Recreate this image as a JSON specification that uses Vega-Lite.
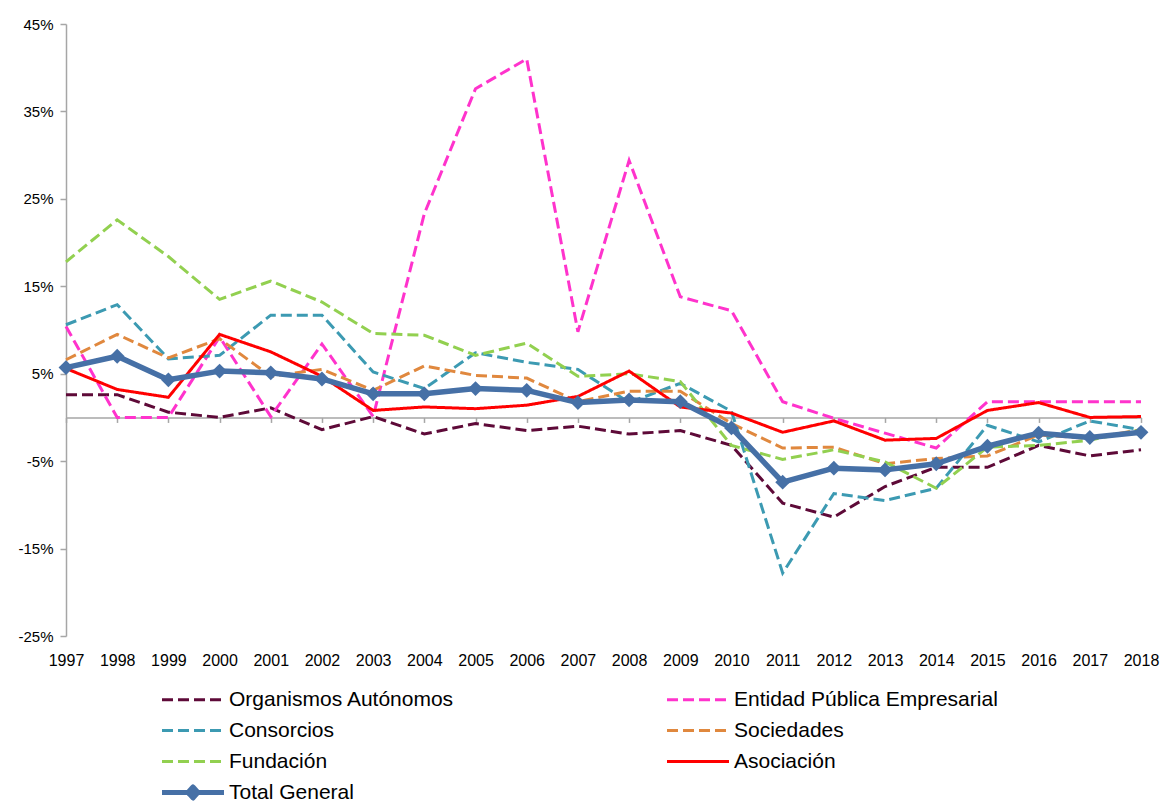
{
  "$schema": "https://vega.github.io/schema/vega-lite/v6.json",
  "width": 1075,
  "height": 612,
  "autosize": {"type": "none"},
  "padding": {"left": 66, "top": 24, "right": 22, "bottom": 167},
  "background": "white",
  "config": {
    "view": {"stroke": null},
    "font": "Liberation Sans",
    "axis": {"labelColor": "black", "labelFont": "Liberation Sans", "grid": false, "title": null}
  },
  "data": {
    "values": [
      {"year": "1997", "s": "Organismos Autónomos", "v": 2.6},
      {"year": "1998", "s": "Organismos Autónomos", "v": 2.6},
      {"year": "1999", "s": "Organismos Autónomos", "v": 0.6},
      {"year": "2000", "s": "Organismos Autónomos", "v": 0.0},
      {"year": "2001", "s": "Organismos Autónomos", "v": 1.1},
      {"year": "2002", "s": "Organismos Autónomos", "v": -1.4},
      {"year": "2003", "s": "Organismos Autónomos", "v": 0.1},
      {"year": "2004", "s": "Organismos Autónomos", "v": -1.9},
      {"year": "2005", "s": "Organismos Autónomos", "v": -0.7},
      {"year": "2006", "s": "Organismos Autónomos", "v": -1.5},
      {"year": "2007", "s": "Organismos Autónomos", "v": -1.0},
      {"year": "2008", "s": "Organismos Autónomos", "v": -1.9},
      {"year": "2009", "s": "Organismos Autónomos", "v": -1.5},
      {"year": "2010", "s": "Organismos Autónomos", "v": -3.2},
      {"year": "2011", "s": "Organismos Autónomos", "v": -9.8},
      {"year": "2012", "s": "Organismos Autónomos", "v": -11.4},
      {"year": "2013", "s": "Organismos Autónomos", "v": -7.9},
      {"year": "2014", "s": "Organismos Autónomos", "v": -5.7},
      {"year": "2015", "s": "Organismos Autónomos", "v": -5.7},
      {"year": "2016", "s": "Organismos Autónomos", "v": -3.2},
      {"year": "2017", "s": "Organismos Autónomos", "v": -4.4},
      {"year": "2018", "s": "Organismos Autónomos", "v": -3.7},
      {"year": "1997", "s": "Entidad Pública Empresarial", "v": 10.4},
      {"year": "1998", "s": "Entidad Pública Empresarial", "v": 0.0},
      {"year": "1999", "s": "Entidad Pública Empresarial", "v": 0.0},
      {"year": "2000", "s": "Entidad Pública Empresarial", "v": 9.2},
      {"year": "2001", "s": "Entidad Pública Empresarial", "v": 0.1},
      {"year": "2002", "s": "Entidad Pública Empresarial", "v": 8.4},
      {"year": "2003", "s": "Entidad Pública Empresarial", "v": 0.1},
      {"year": "2004", "s": "Entidad Pública Empresarial", "v": 23.3},
      {"year": "2005", "s": "Entidad Pública Empresarial", "v": 37.6},
      {"year": "2006", "s": "Entidad Pública Empresarial", "v": 41.0},
      {"year": "2007", "s": "Entidad Pública Empresarial", "v": 9.8},
      {"year": "2008", "s": "Entidad Pública Empresarial", "v": 29.4},
      {"year": "2009", "s": "Entidad Pública Empresarial", "v": 13.8},
      {"year": "2010", "s": "Entidad Pública Empresarial", "v": 12.2},
      {"year": "2011", "s": "Entidad Pública Empresarial", "v": 1.8},
      {"year": "2012", "s": "Entidad Pública Empresarial", "v": -0.1},
      {"year": "2013", "s": "Entidad Pública Empresarial", "v": -1.8},
      {"year": "2014", "s": "Entidad Pública Empresarial", "v": -3.5},
      {"year": "2015", "s": "Entidad Pública Empresarial", "v": 1.8},
      {"year": "2016", "s": "Entidad Pública Empresarial", "v": 1.8},
      {"year": "2017", "s": "Entidad Pública Empresarial", "v": 1.8},
      {"year": "2018", "s": "Entidad Pública Empresarial", "v": 1.8},
      {"year": "1997", "s": "Consorcios", "v": 10.6},
      {"year": "1998", "s": "Consorcios", "v": 12.9},
      {"year": "1999", "s": "Consorcios", "v": 6.7},
      {"year": "2000", "s": "Consorcios", "v": 7.1},
      {"year": "2001", "s": "Consorcios", "v": 11.7},
      {"year": "2002", "s": "Consorcios", "v": 11.7},
      {"year": "2003", "s": "Consorcios", "v": 5.2},
      {"year": "2004", "s": "Consorcios", "v": 3.3},
      {"year": "2005", "s": "Consorcios", "v": 7.4},
      {"year": "2006", "s": "Consorcios", "v": 6.3},
      {"year": "2007", "s": "Consorcios", "v": 5.5},
      {"year": "2008", "s": "Consorcios", "v": 1.7},
      {"year": "2009", "s": "Consorcios", "v": 3.9},
      {"year": "2010", "s": "Consorcios", "v": 0.7},
      {"year": "2011", "s": "Consorcios", "v": -17.8},
      {"year": "2012", "s": "Consorcios", "v": -8.7},
      {"year": "2013", "s": "Consorcios", "v": -9.5},
      {"year": "2014", "s": "Consorcios", "v": -8.1},
      {"year": "2015", "s": "Consorcios", "v": -0.9},
      {"year": "2016", "s": "Consorcios", "v": -2.8},
      {"year": "2017", "s": "Consorcios", "v": -0.4},
      {"year": "2018", "s": "Consorcios", "v": -1.4},
      {"year": "1997", "s": "Sociedades", "v": 6.6},
      {"year": "1998", "s": "Sociedades", "v": 9.5},
      {"year": "1999", "s": "Sociedades", "v": 6.8},
      {"year": "2000", "s": "Sociedades", "v": 9.0},
      {"year": "2001", "s": "Sociedades", "v": 4.7},
      {"year": "2002", "s": "Sociedades", "v": 5.5},
      {"year": "2003", "s": "Sociedades", "v": 3.1},
      {"year": "2004", "s": "Sociedades", "v": 5.9},
      {"year": "2005", "s": "Sociedades", "v": 4.8},
      {"year": "2006", "s": "Sociedades", "v": 4.5},
      {"year": "2007", "s": "Sociedades", "v": 1.8},
      {"year": "2008", "s": "Sociedades", "v": 3.0},
      {"year": "2009", "s": "Sociedades", "v": 3.0},
      {"year": "2010", "s": "Sociedades", "v": -0.7},
      {"year": "2011", "s": "Sociedades", "v": -3.5},
      {"year": "2012", "s": "Sociedades", "v": -3.4},
      {"year": "2013", "s": "Sociedades", "v": -5.3},
      {"year": "2014", "s": "Sociedades", "v": -4.7},
      {"year": "2015", "s": "Sociedades", "v": -4.4},
      {"year": "2016", "s": "Sociedades", "v": -2.0},
      {"year": "2017", "s": "Sociedades", "v": -2.4},
      {"year": "2018", "s": "Sociedades", "v": -1.4},
      {"year": "1997", "s": "Fundación", "v": 17.8},
      {"year": "1998", "s": "Fundación", "v": 22.6},
      {"year": "1999", "s": "Fundación", "v": 18.4},
      {"year": "2000", "s": "Fundación", "v": 13.5},
      {"year": "2001", "s": "Fundación", "v": 15.6},
      {"year": "2002", "s": "Fundación", "v": 13.2},
      {"year": "2003", "s": "Fundación", "v": 9.6},
      {"year": "2004", "s": "Fundación", "v": 9.4},
      {"year": "2005", "s": "Fundación", "v": 7.1},
      {"year": "2006", "s": "Fundación", "v": 8.5},
      {"year": "2007", "s": "Fundación", "v": 4.7},
      {"year": "2008", "s": "Fundación", "v": 5.0},
      {"year": "2009", "s": "Fundación", "v": 4.1},
      {"year": "2010", "s": "Fundación", "v": -3.2},
      {"year": "2011", "s": "Fundación", "v": -4.8},
      {"year": "2012", "s": "Fundación", "v": -3.7},
      {"year": "2013", "s": "Fundación", "v": -5.1},
      {"year": "2014", "s": "Fundación", "v": -8.1},
      {"year": "2015", "s": "Fundación", "v": -3.4},
      {"year": "2016", "s": "Fundación", "v": -3.2},
      {"year": "2017", "s": "Fundación", "v": -2.6},
      {"year": "2018", "s": "Fundación", "v": -1.4},
      {"year": "1997", "s": "Asociación", "v": 5.6},
      {"year": "1998", "s": "Asociación", "v": 3.2},
      {"year": "1999", "s": "Asociación", "v": 2.3},
      {"year": "2000", "s": "Asociación", "v": 9.5},
      {"year": "2001", "s": "Asociación", "v": 7.5},
      {"year": "2002", "s": "Asociación", "v": 4.7},
      {"year": "2003", "s": "Asociación", "v": 0.8},
      {"year": "2004", "s": "Asociación", "v": 1.2},
      {"year": "2005", "s": "Asociación", "v": 1.0},
      {"year": "2006", "s": "Asociación", "v": 1.4},
      {"year": "2007", "s": "Asociación", "v": 2.4},
      {"year": "2008", "s": "Asociación", "v": 5.3},
      {"year": "2009", "s": "Asociación", "v": 1.2},
      {"year": "2010", "s": "Asociación", "v": 0.5},
      {"year": "2011", "s": "Asociación", "v": -1.7},
      {"year": "2012", "s": "Asociación", "v": -0.4},
      {"year": "2013", "s": "Asociación", "v": -2.6},
      {"year": "2014", "s": "Asociación", "v": -2.4},
      {"year": "2015", "s": "Asociación", "v": 0.8},
      {"year": "2016", "s": "Asociación", "v": 1.7},
      {"year": "2017", "s": "Asociación", "v": 0.0},
      {"year": "2018", "s": "Asociación", "v": 0.1},
      {"year": "1997", "s": "Total General", "v": 5.7},
      {"year": "1998", "s": "Total General", "v": 7.0},
      {"year": "1999", "s": "Total General", "v": 4.3},
      {"year": "2000", "s": "Total General", "v": 5.3},
      {"year": "2001", "s": "Total General", "v": 5.1},
      {"year": "2002", "s": "Total General", "v": 4.4},
      {"year": "2003", "s": "Total General", "v": 2.7},
      {"year": "2004", "s": "Total General", "v": 2.7},
      {"year": "2005", "s": "Total General", "v": 3.3},
      {"year": "2006", "s": "Total General", "v": 3.1},
      {"year": "2007", "s": "Total General", "v": 1.7},
      {"year": "2008", "s": "Total General", "v": 2.0},
      {"year": "2009", "s": "Total General", "v": 1.8},
      {"year": "2010", "s": "Total General", "v": -1.2},
      {"year": "2011", "s": "Total General", "v": -7.4},
      {"year": "2012", "s": "Total General", "v": -5.8},
      {"year": "2013", "s": "Total General", "v": -6.0},
      {"year": "2014", "s": "Total General", "v": -5.3},
      {"year": "2015", "s": "Total General", "v": -3.3},
      {"year": "2016", "s": "Total General", "v": -1.8},
      {"year": "2017", "s": "Total General", "v": -2.3},
      {"year": "2018", "s": "Total General", "v": -1.7}
    ]
  },
  "encoding": {
    "x": {
      "field": "year", "type": "ordinal",
      "scale": {"type": "point", "padding": 0},
      "axis": {
        "offset": -218.57, "domainColor": "#A6A6A6", "domainWidth": 1.5,
        "tickColor": "#A6A6A6", "tickWidth": 1.5, "tickSize": 5,
        "labelPadding": 230, "labelAngle": 0, "labelFontSize": 16
      }
    },
    "y": {
      "field": "v", "type": "quantitative",
      "scale": {"domain": [-25, 45], "nice": false, "zero": false},
      "axis": {
        "values": [-25, -15, -5, 5, 15, 25, 35, 45],
        "labelExpr": "datum.value + '%'",
        "domainColor": "#A6A6A6", "domainWidth": 1.5,
        "tickColor": "#A6A6A6", "tickWidth": 1.5, "tickSize": 6,
        "labelPadding": 7, "labelFontSize": 15
      }
    }
  },
  "layer": [
    {
      "transform": [{"filter": "datum.s !== 'Total General'"}],
      "mark": {"type": "line", "strokeCap": "butt"},
      "encoding": {
        "color": {
          "field": "s", "type": "nominal",
          "scale": {
            "domain": ["Organismos Autónomos", "Entidad Pública Empresarial", "Consorcios", "Sociedades", "Fundación", "Asociación", "Total General"],
            "range": ["#5E0A38", "#FF33CC", "#3C9AB2", "#E0883E", "#92D050", "#FF0000", "#4670A6"]
          },
          "legend": {
            "title": null, "orient": "none", "legendX": 116.5, "legendY": 665,
            "columns": 2, "direction": "horizontal", "columnPadding": 211, "rowPadding": 9,
            "labelFontSize": 21, "labelColor": "black", "labelFont": "Liberation Sans",
            "labelOffset": 25.5, "symbolSize": 400, "labelLimit": 400,
            "encode": {
              "symbols": {
                "update": {
                  "shape": {"signal": "datum.value === 'Total General' ? 'M-3.1,0H3.1M0,-0.55L0.5,0L0,0.55L-0.5,0Z' : 'M-3.1,0H3.1'"},
                  "fill": {"signal": "datum.value === 'Total General' ? '#4670A6' : 'transparent'"},
                  "strokeDash": {"signal": "(datum.value === 'Total General' || datum.value === 'Asociación') ? [1, 0] : [9, 4]"},
                  "strokeWidth": {"signal": "datum.value === 'Total General' ? 5 : 3"},
                  "strokeJoin": {"value": "round"}
                }
              }
            }
          }
        },
        "strokeDash": {
          "field": "s", "type": "nominal", "legend": null,
          "scale": {
            "domain": ["Organismos Autónomos", "Entidad Pública Empresarial", "Consorcios", "Sociedades", "Fundación", "Asociación", "Total General"],
            "range": [[11, 5], [11, 5], [11, 5], [11, 5], [11, 5], [1, 0], [1, 0]]
          }
        },
        "strokeWidth": {"value": 3}
      }
    },
    {
      "transform": [{"filter": "datum.s === 'Total General'"}],
      "mark": {"type": "line", "strokeWidth": 5.5, "color": "#4670A6", "strokeJoin": "round"},
      "encoding": {}
    },
    {
      "transform": [{"filter": "datum.s === 'Total General'"}],
      "mark": {"type": "point", "shape": "diamond", "filled": true, "size": 220, "opacity": 1, "color": "#4670A6"},
      "encoding": {}
    }
  ]
}
